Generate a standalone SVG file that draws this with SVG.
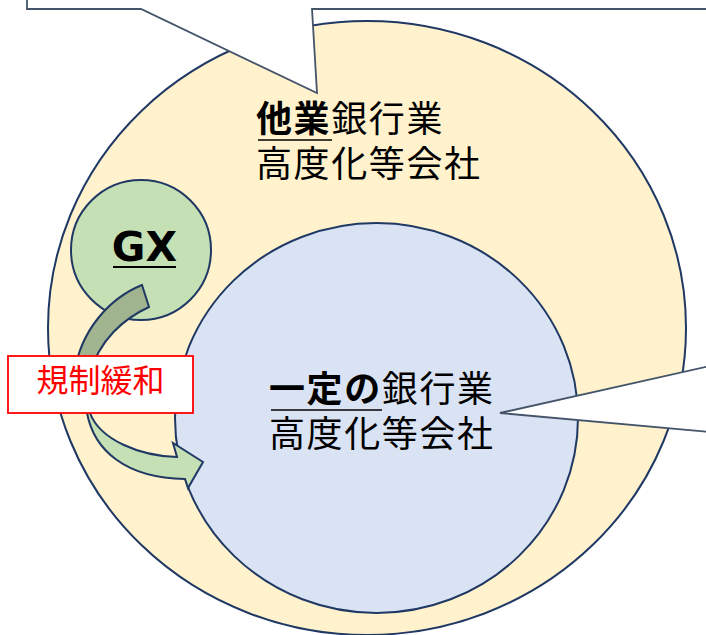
<svg xmlns="http://www.w3.org/2000/svg" width="706" height="635" viewBox="0 0 706 635">
<style>
.outline{stroke:#1F3864;stroke-width:2}
.callout{fill:#FFFFFF;stroke:#44546A;stroke-width:1.8;stroke-linejoin:miter}
.jp{font-family:"Noto Sans CJK JP","Noto Sans",sans-serif;font-size:36px;fill:#000000;letter-spacing:1.6px}
.b{font-weight:bold}
.ul{stroke:#000000;stroke-width:1.6}
</style>
<rect x="0" y="0" width="706" height="635" fill="#FFFFFF"/>
<g id="outer-circle">
<ellipse class="outline" cx="367" cy="328" rx="319" ry="307" fill="#FFF2CC"/>
</g>
<g id="callout-top">
<polygon class="callout" points="27,-10 27,9 141,9 317,93 312,9 720,9 720,-10"/>
</g>
<g id="inner-circle">
<ellipse class="outline" cx="376.5" cy="418" rx="201.5" ry="195" fill="#DAE3F3"/>
</g>
<g id="gx">
<circle class="outline" cx="141" cy="250" r="70" fill="#C5E0B4"/>
<text x="144.5" y="261" text-anchor="middle" font-family="DejaVu Sans, sans-serif" font-weight="bold" font-size="41" fill="#000000">GX</text>
<line x1="113" y1="267" x2="176" y2="267" stroke="#000000" stroke-width="2"/>
</g>
<g id="connectors">
<path class="outline" fill="#9FB48F" stroke-linejoin="miter" d="M142,285 L149,307 C125,318 98,340 90,375 L74,375 C80,330 110,298 142,285 Z"/>
<path class="outline" fill="#C5E0B4" stroke-linejoin="miter" d="M86,400 L87,413 C94,450 125,478 185,479 L188,488 L203,462 L173,443 L177,457 C140,456 100,440 90,413 L89,400 Z"/>
</g>
<g id="label-kisei">
<rect x="8" y="356" width="185" height="57" fill="#FFFFFF" stroke="#FF0000" stroke-width="1.8"/>
<text x="100.5" y="392" text-anchor="middle" font-family="Noto Sans CJK JP, sans-serif" font-size="32" fill="#FF0000">規制緩和</text>
</g>
<g id="callout-right">
<polygon class="callout" points="710,366 500,413 710,432"/>
</g>
<g id="text-outer">
<text class="jp" x="256" y="132"><tspan class="b">他業</tspan>銀行業<tspan x="256" y="177">高度化等会社</tspan></text>
<line class="ul" x1="258" y1="140" x2="332" y2="140"/>
</g>
<g id="text-inner">
<text class="jp" x="269" y="402"><tspan class="b">一定の</tspan>銀行業<tspan x="269" y="447">高度化等会社</tspan></text>
<line class="ul" x1="271" y1="410" x2="382" y2="410"/>
</g>
</svg>
